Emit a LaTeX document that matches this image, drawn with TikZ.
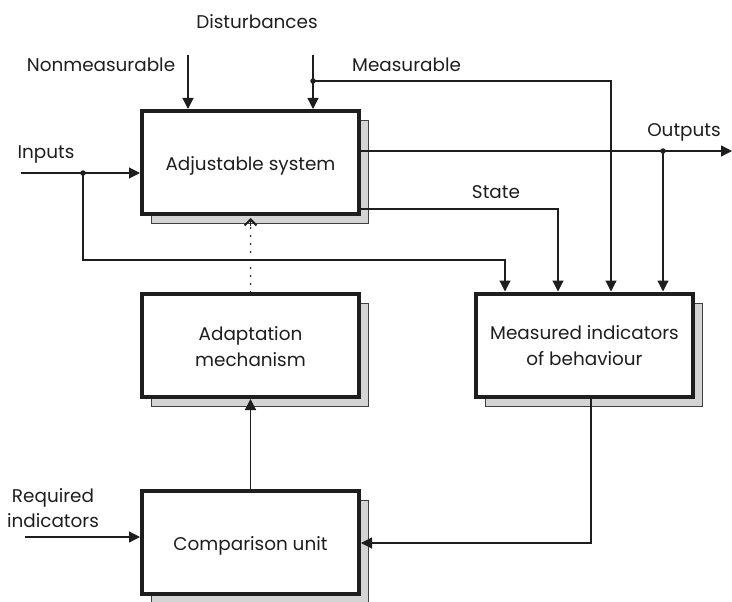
\documentclass[tikz,border=0pt]{standalone}
\usepackage{fontspec}
\setmainfont{Poppins}
\usetikzlibrary{arrows.meta,shadows}
\definecolor{ink}{HTML}{1E1E1E}
\definecolor{shadowgray}{HTML}{D4D4D4}
\begin{document}
\begin{tikzpicture}[x=1pt,y=-1pt,
  font=\fontsize{18.4}{26}\selectfont,
  block/.style={draw=ink, line width=4pt, fill=white, minimum width=217pt,
    minimum height=103pt, align=center, text=ink,
    text height=17pt, text depth=0pt,
    general shadow={fill=shadowgray, draw=ink!85, line width=1pt,
      shadow xshift=9pt, shadow yshift=-9.5pt}},
  twoline/.style={text height=41pt},
  wire/.style={draw=ink, line width=1.2pt},
  arr/.style={wire, -{Triangle[length=11pt,width=11pt]}},
  dotwire/.style={draw=ink, line width=2pt, line cap=round,
    dash pattern=on 0pt off 8pt},
  barb/.style={draw=ink, line width=1.2pt,
    -{Straight Barb[length=6pt,width=12pt,line width=2pt]}},
  lbl/.style={anchor=base, text=ink, inner sep=0pt},
  junction/.style={circle, fill=ink, inner sep=0pt, minimum size=5.5pt}]
\useasboundingbox (0,0) rectangle (732,602);

% the four blocks
\node[block] (adj)   at (250.5,162.5) {Adjustable system};
\node[block, twoline] (adapt) at (250.5,345.5) {Adaptation\\mechanism};
\node[block, twoline] (meas)  at (584.5,345)   {Measured indicators\\of behaviour};
\node[block] (comp)  at (250.5,542)   {Comparison unit};

% labels
\node[lbl] (ldist) at (257,29)  {Disturbances};
\node[lbl] (lnon)  at (101,72)  {Nonmeasurable};
\node[lbl, anchor=base west] (lmeas) at (352,72) {Measurable};
\node[lbl] (lin)   at (46,159)  {Inputs};
\node[lbl] (lout)  at (684,137) {Outputs};
\node[lbl] (lstate) at (496,198) {State};
\node[lbl] (lreq)  at (53,502)  {Required};
\node[lbl] (lind)  at (53,527)  {indicators};

% free ends and branch points
\coordinate (nontop) at (188,55);
\coordinate (mtop)   at (313,55);
\coordinate (inl)    at (21,173);
\coordinate (reql)   at (25,537);
\coordinate (outr)   at (732,151);
\coordinate (ibend)  at (505,260);
\coordinate (tiptop) at (250.5,218);
\coordinate (tipbase) at (250.5,226);
\node[junction] (mdot) at (313,81) {};
\node[junction] (idot) at (83,173) {};
\node[junction] (odot) at (663,151) {};

% disturbances
\draw[arr] (nontop) -- (nontop |- adj.north);
\draw[arr] (mtop) -- (mtop |- adj.north);
\draw[arr] (mdot.center) -| (611,0 |- meas.north);

% inputs
\draw[arr] (inl) -- (inl -| adj.west);
\draw[arr] (idot.center) |- (ibend) -- (ibend |- meas.north);

% outputs and state
\draw[arr] (adj.east |- outr) -- (outr);
\draw[arr] (odot.center) -- (odot |- meas.north);
\draw[arr] (adj.east |- 0,209) -| (558,0 |- meas.north);

% adaptation loop: dotted adjustment path with an open tip
\draw[dotwire] (adapt.north) -- (tipbase);
\draw[barb] (tipbase) -- (tiptop);
\draw[arr] (comp.north) -- (adapt.south);
\draw[arr] (reql) -- (reql -| comp.west);
\draw[arr] (591,0 |- meas.south) |- (comp.east |- 0,543);
\end{tikzpicture}
\end{document}
